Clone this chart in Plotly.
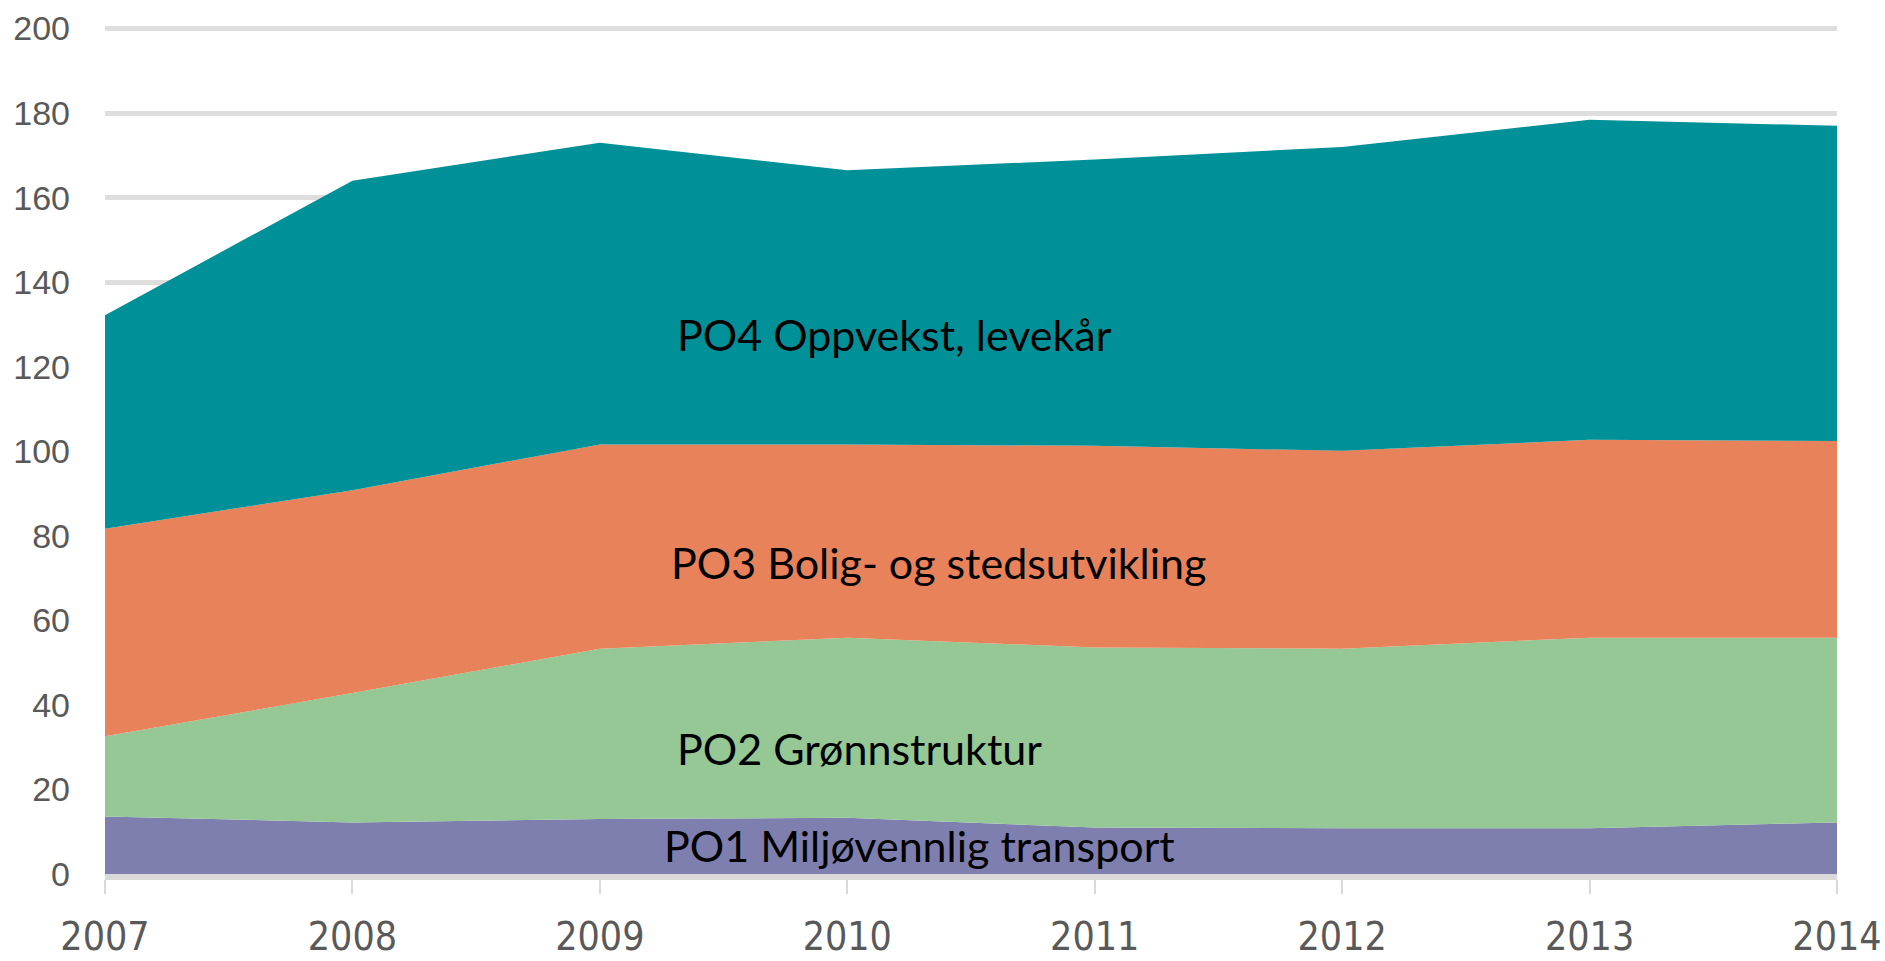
import plotly.graph_objects as go

years = [2007, 2008, 2009, 2010, 2011, 2012, 2013, 2014]
po1 = [13.6, 12.2, 13.0, 13.3, 11.0, 10.8, 10.8, 12.2]
po2 = [19.0, 30.6, 40.3, 42.6, 42.6, 42.5, 45.1, 43.7]
po3 = [49.1, 48.0, 48.3, 45.7, 47.7, 46.8, 46.8, 46.5]
po4 = [50.5, 73.2, 71.4, 64.9, 67.7, 71.9, 75.7, 74.6]

y_ticks = [0, 20, 40, 60, 80, 100, 120, 140, 160, 180, 200]

series = [
    ("PO1 Miljøvennlig transport", po1, "#7F7FAF"),
    ("PO2 Grønnstruktur", po2, "#95C895"),
    ("PO3 Bolig- og stedsutvikling", po3, "#E8825A"),
    ("PO4 Oppvekst, levekår", po4, "#009097"),
]

labels = [
    ("PO4 Oppvekst, levekår", 2010.19, 127.7),
    ("PO3 Bolig- og stedsutvikling", 2010.37, 73.8),
    ("PO2 Grønnstruktur", 2010.05, 29.8),
    ("PO1 Miljøvennlig transport", 2010.29, 6.8),
]

fig = go.Figure()
for name, vals, col in series:
    fig.add_trace(go.Scatter(
        x=years, y=vals, name=name, mode="lines", stackgroup="one",
        line=dict(width=0, color=col), fillcolor=col, hoverinfo="x+y+name",
    ))

for txt, x, y in labels:
    fig.add_annotation(x=x, y=y, text=txt, showarrow=False,
                       font=dict(family="Lato", size=43, color="#000000"))

fig.update_layout(
    width=1885, height=961,
    margin=dict(l=105, r=48, t=26, b=87, autoexpand=False),
    plot_bgcolor="white", paper_bgcolor="white",
    showlegend=False,
)
fig.update_xaxes(
    range=[2007, 2014], tickvals=years, ticktext=[str(y) for y in years],
    showgrid=False, zeroline=False, automargin=False,
    showline=True, linecolor="#D9D9D9", linewidth=6,
    ticks="outside", ticklen=14, tickwidth=2, tickcolor="#D9D9D9",
    ticklabeloverflow="allow", ticklabelstandoff=9,
    tickfont=dict(family="DejaVu Sans Condensed", size=39, color="#595959"),
)
fig.update_yaxes(
    range=[0, 200.6], tickvals=y_ticks,
    showgrid=True, gridcolor="#DEDEDE", gridwidth=5, zeroline=False,
    showline=False, ticks="", ticklabelstandoff=34, automargin=False,
    ticklabeloverflow="allow",
    tickfont=dict(family="Liberation Sans", size=34, color="#595959"),
)

fig.write_html(
    "out.html",
    config={"displayModeBar": False},
    post_script="document.body.style.margin='0';document.body.style.overflow='hidden';",
)
